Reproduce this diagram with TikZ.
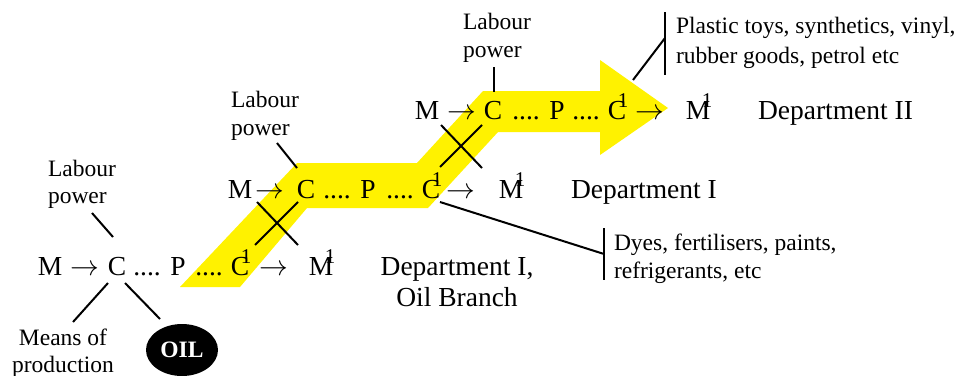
\documentclass[tikz,border=0pt]{standalone}
\usepackage{fontspec}
\setmainfont{Liberation Serif}
\usetikzlibrary{shapes.geometric}
\definecolor{band}{RGB}{255,242,0}
% letter with the raised 1 laid over its right edge
\newcommand\one[1]{#1\kern-1.5pt\makebox[0pt]{\raisebox{6pt}{\fontsize{10.5}{10}\selectfont 1}}\kern1.5pt}

\begin{document}
\begin{tikzpicture}[x=0.5pt, y=-0.5pt, line width=1pt,
		big/.style={anchor=base, inner sep=0pt, font=\fontsize{13.75}{16}\selectfont},
		small/.style={inner sep=0pt, font=\fontsize{11.75}{14}\selectfont}]
		%%%%% START %%%%%
		\useasboundingbox (0,0) rectangle (961,375);
		
		% yellow band running up through the circuits
		\fill[band] (180,287) -- (297,163) -- (417,163) -- (483,91) -- (600,91) -- (600,60)
			-- (668,108) -- (600,155) -- (600,132) -- (498,132) -- (428,208) -- (307,208)
			-- (240,287) -- cycle;
		
		% Department I, oil branch
		\node[big] (m1) at (50,275) {M};
		\node[big] (a1) at (85,275) {$\rightarrow$};
		\node[big] (c1) at (117,275) {C};
		\node[big] (d1) at (147,275) {....};
		\node[big] (p1) at (178,275) {P};
		\node[big] (e1) at (209,275) {....};
		\node[big] (cc1) at (240,275) {\one{C}};
		\node[big] (b1) at (274,275) {$\rightarrow$};
		\node[big] (mm1) at (321,275) {\one{M}};
		\node[big, align=center, font=\fontsize{13.75}{15.5}\selectfont] (dep1) at (457,306) {Department I,\\Oil Branch};
		
		\node[small, anchor=base west, align=left, font=\fontsize{11.75}{13.5}\selectfont] (lab1) at (47,203) {Labour\\power};
		\node[small, anchor=base, align=center, font=\fontsize{11.75}{13.5}\selectfont] (mop) at (63,372) {Means of\\production};
		\node[ellipse, fill=black, text=white, inner sep=0pt, minimum width=36pt, minimum height=26pt,
			font=\fontsize{11.75}{14}\selectfont\bfseries] (oil) at (182,350) {OIL};
		
		% Department I
		\node[big] (m2) at (240,198) {M};
		\node[big] (a2) at (270,198) {$\rightarrow$};
		\node[big] (c2) at (306,198) {C};
		\node[big] (d2) at (337,198) {....};
		\node[big] (p2) at (368,198) {P};
		\node[big] (e2) at (400,198) {....};
		\node[big] (cc2) at (431,198) {\one{C}};
		\node[big] (b2) at (461,198) {$\rightarrow$};
		\node[big] (mm2) at (511,198) {\one{M}};
		\node[big, anchor=base west] (dep2) at (570,198) {Department I};
		
		\node[small, anchor=base west, align=left, font=\fontsize{11.75}{14}\selectfont] (lab2) at (230,135) {Labour\\power};
		\node[small, anchor=base west, align=left] (dyes) at (613,278) {Dyes, fertilisers, paints,\\refrigerants, etc};
		
		% Department II
		\node[big] (m3) at (427,119) {M};
		\node[big] (a3) at (462,119) {$\rightarrow$};
		\node[big] (c3) at (493,119) {C};
		\node[big] (d3) at (526,119) {....};
		\node[big] (p3) at (557,119) {P};
		\node[big] (e3) at (586,119) {....};
		\node[big] (cc3) at (617,119) {\one{C}};
		\node[big] (b3) at (650,119) {$\rightarrow$};
		\node[big] (mm3) at (698,119) {\one{M}};
		\node[big, anchor=base west] (dep3) at (757,119) {Department II};
		
		\node[small, anchor=base west, align=left] (lab3) at (462,57) {Labour\\power};
		\node[small, anchor=base west, align=left, font=\fontsize{11.75}{15}\selectfont] (toys) at (675,63) {Plastic toys, synthetics, vinyl,\\rubber goods, petrol etc};
		
		% line ends
		\coordinate (l1a) at (92,213);   \coordinate (l1b) at (113,237);
		\coordinate (mpa) at (108,283);  \coordinate (mpb) at (73,322);
		\coordinate (oia) at (125,283);  \coordinate (oib) at (160,319);
		\coordinate (l2a) at (277,143);  \coordinate (l2b) at (297,168);
		\coordinate (l3a) at (494,67);   \coordinate (l3b) at (494,92);
		\coordinate (xa1) at (255,245);  \coordinate (xb1) at (298,202);
		\coordinate (xc1) at (257,202);  \coordinate (xd1) at (298,245);
		\coordinate (xa2) at (440,167);  \coordinate (xb2) at (482,125);
		\coordinate (xc2) at (441,125);  \coordinate (xd2) at (482,168);
		\coordinate (tya) at (633,80);   \coordinate (tyb) at (665,38);
		\coordinate (tyt) at (665,12);   \coordinate (tyu) at (665,75);
		\coordinate (dya) at (440,202);  \coordinate (dyb) at (604,254);
		\coordinate (dyt) at (604,228);  \coordinate (dyu) at (604,280);
		
		\draw (l1a) -- (l1b);
		\draw (mpa) -- (mpb);
		\draw (oia) -- (oib);
		\draw (l2a) -- (l2b);
		\draw (l3a) -- (l3b);
		
		\draw (xa1) -- (xb1);
		\draw (xc1) -- (xd1);
		\draw (xa2) -- (xb2);
		\draw (xc2) -- (xd2);
		
		\draw (tya) -- (tyb);
		\draw (tyt) -- (tyu);
		\draw (dya) -- (dyb);
		\draw (dyt) -- (dyu);
		
		%%%%% END %%%%%
	\end{tikzpicture}
\end{document}
